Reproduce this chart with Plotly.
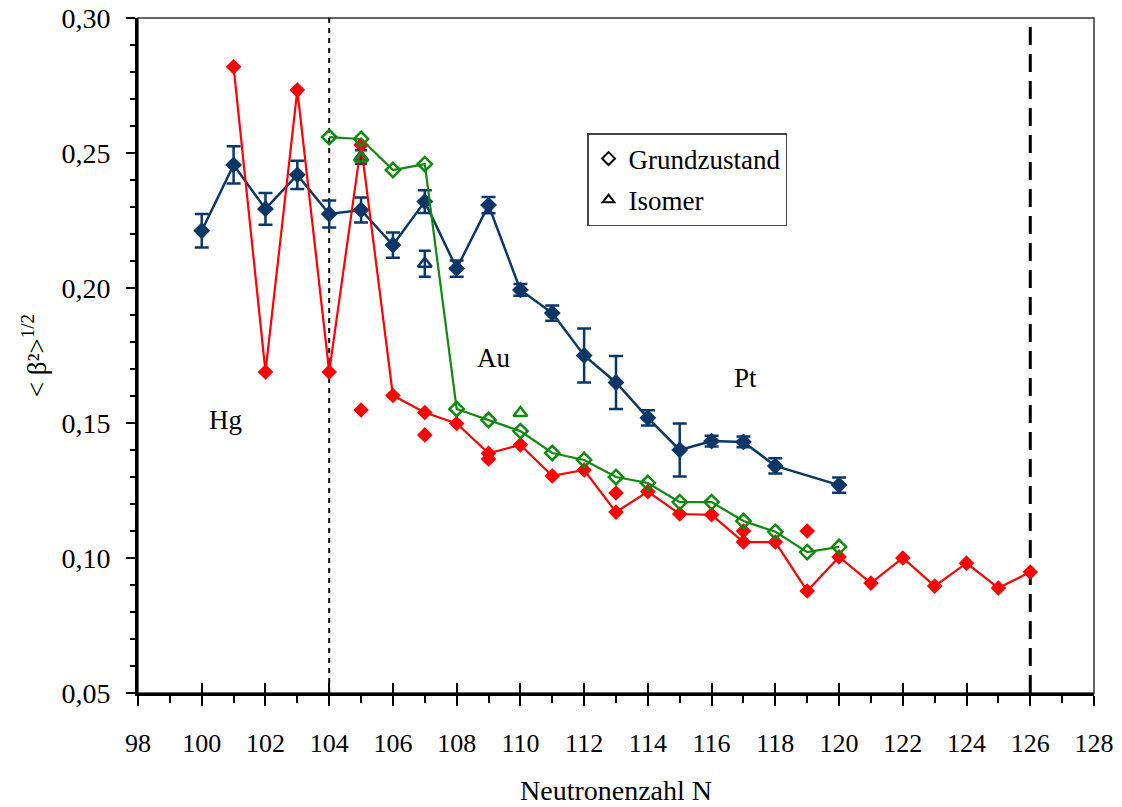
import plotly.graph_objects as go

# Neutron numbers and rms deformation <beta^2>^(1/2)
# Pt (ground states, with errors)
pt_n = [100, 101, 102, 103, 104, 105, 106, 107, 108, 109, 110, 111, 112, 113, 114, 115, 116, 117, 118, 120]
pt_beta = [0.2212, 0.2456, 0.2293, 0.2419, 0.2274, 0.2289, 0.2159, 0.2320, 0.2072, 0.2307,
           0.1993, 0.1907, 0.1750, 0.1650, 0.1519, 0.1400, 0.1433, 0.1430, 0.1341, 0.1270]
pt_err = [0.0062, 0.0069, 0.0059, 0.0052, 0.0050, 0.0046, 0.0047, 0.0042, 0.0030, 0.0030,
          0.0022, 0.0028, 0.0100, 0.0098, 0.0028, 0.0098, 0.0020, 0.0020, 0.0028, 0.0028]

# Pt isomers
pt_iso_n = [105, 107]
pt_iso_beta = [0.2485, 0.2090]
pt_iso_err = [0.0025, 0.0048]

# Hg ground states (connected)
hg_n = [101, 102, 103, 104, 105, 106, 107, 108, 109, 110, 111, 112, 113,
        114, 115, 116, 117, 118, 119, 120, 121, 122, 123, 124, 125, 126]
hg_beta = [0.2819, 0.1689, 0.2733, 0.1689, 0.2530, 0.1602, 0.1539, 0.1498, 0.1388, 0.1419,
           0.1304, 0.1326, 0.1170, 0.1246, 0.1163, 0.1160, 0.1059, 0.1059, 0.0878, 0.1004,
           0.0907, 0.1000, 0.0896, 0.0981, 0.0889, 0.0948]

# Hg isomers (single points)
hg_iso_n = [105, 107, 109, 113, 117, 119]
hg_iso_beta = [0.1548, 0.1456, 0.1367, 0.1241, 0.1100, 0.1100]

# Au ground states
au_n = [104, 105, 106, 107, 108, 109, 110, 111, 112, 113, 114, 115, 116, 117, 118, 119, 120]
au_beta = [0.2559, 0.2552, 0.2437, 0.2459, 0.1552, 0.1511, 0.1470, 0.1389, 0.1363, 0.1300,
           0.1278, 0.1207, 0.1207, 0.1137, 0.1097, 0.1022, 0.1041]

# Au isomers
au_iso_n = [105, 110]
au_iso_beta = [0.2481, 0.1537]

# Reference lines: midshell and N=126 shell closure
n_mid = 104
n_shell = 126

PT_COLOR = "#0b3768"
HG_COLOR = "#ff0000"
AU_COLOR = "#0f8a0f"
FONT = "Liberation Serif"

fig = go.Figure()

# Pt
fig.add_trace(go.Scatter(
    x=pt_n, y=pt_beta, mode="lines+markers", showlegend=False,
    line=dict(color=PT_COLOR, width=2.5),
    marker=dict(symbol="diamond", size=13, color=PT_COLOR),
    error_y=dict(type="data", array=pt_err, color=PT_COLOR, thickness=2.5, width=7),
))
fig.add_trace(go.Scatter(
    x=pt_iso_n, y=pt_iso_beta, mode="markers", showlegend=False,
    marker=dict(symbol="triangle-up-open", size=12, color=PT_COLOR, line=dict(width=2.5)),
    error_y=dict(type="data", array=pt_iso_err, color=PT_COLOR, thickness=2.5, width=6),
))

# Hg
fig.add_trace(go.Scatter(
    x=hg_n, y=hg_beta, mode="lines+markers", showlegend=False,
    line=dict(color=HG_COLOR, width=2.2),
    marker=dict(symbol="diamond", size=12, color=HG_COLOR),
))
fig.add_trace(go.Scatter(
    x=hg_iso_n, y=hg_iso_beta, mode="markers", showlegend=False,
    marker=dict(symbol="diamond", size=12, color=HG_COLOR),
))

# Au
fig.add_trace(go.Scatter(
    x=au_n, y=au_beta, mode="lines+markers", showlegend=False,
    line=dict(color=AU_COLOR, width=2.2),
    marker=dict(symbol="diamond-open", size=11, color=AU_COLOR, line=dict(width=2.5)),
))
fig.add_trace(go.Scatter(
    x=au_iso_n, y=au_iso_beta, mode="markers", showlegend=False,
    marker=dict(symbol="triangle-up-open", size=12, color=AU_COLOR, line=dict(width=2.5)),
))

# Legend entries
fig.add_trace(go.Scatter(
    x=[None], y=[None], mode="markers", name="Grundzustand", legendgroup="g",
    marker=dict(symbol="diamond-open", size=10, color="black", line=dict(width=2)),
))
fig.add_trace(go.Scatter(
    x=[None], y=[None], mode="markers", name="Isomer", legendgroup="i",
    marker=dict(symbol="triangle-up-open", size=10, color="black", line=dict(width=2)),
))

# Vertical reference lines
fig.add_shape(type="line", xref="x", yref="y", x0=n_mid, x1=n_mid, y0=0.05, y1=0.30,
              line=dict(color="black", width=2, dash="5px,5px"), layer="below")
fig.add_shape(type="line", xref="x", yref="y", x0=n_shell, x1=n_shell, y0=0.05, y1=0.30,
              line=dict(color="black", width=3, dash="18px,9px"), layer="below")

# Frame (top and right edges)
fig.add_shape(type="rect", xref="paper", yref="paper", x0=0, x1=1, y0=0, y1=1,
              line=dict(color="#333333", width=1.5), layer="below")

# Element labels
for txt, xv, yv in [("Hg", 100.75, 0.151), ("Au", 109.15, 0.174), ("Pt", 117.05, 0.1665)]:
    fig.add_annotation(x=xv, y=yv, xref="x", yref="y", text=txt, showarrow=False,
                       font=dict(family=FONT, size=27, color="black"))

# Axis titles
fig.add_annotation(x=-0.109, y=0.5, xref="paper", yref="paper", textangle=-90,
                   xanchor="center", yanchor="middle",
                   text="< β²><sup>1/2</sup>", showarrow=False,
                   font=dict(family=FONT, size=27, color="black"))
fig.add_annotation(x=0.5, y=-0.145, xref="paper", yref="paper",
                   xanchor="center", yanchor="middle",
                   text="Neutronenzahl N", showarrow=False,
                   font=dict(family=FONT, size=28, color="black"))

fig.update_layout(
    width=1122, height=807,
    margin=dict(l=138, r=28, t=18, b=114, autoexpand=False),
    paper_bgcolor="white", plot_bgcolor="white",
    separators=",.",
    font=dict(family=FONT, color="black"),
    showlegend=True,
    legend=dict(
        x=0.4697, y=0.8296, xanchor="left", yanchor="top",
        bgcolor="white", bordercolor="#444444", borderwidth=1.5,
        font=dict(family=FONT, size=27, color="black"),
        traceorder="grouped", tracegroupgap=3,
    ),
    xaxis=dict(
        range=[98, 128], tick0=98, dtick=2, showgrid=False, zeroline=False,
        showline=True, linecolor="black", linewidth=3, automargin=False,
        ticks="outside", ticklen=10, tickwidth=2, tickcolor="black",
        minor=dict(dtick=1, ticks="outside", ticklen=7, tickwidth=2, tickcolor="black"),
        tickfont=dict(family=FONT, size=26, color="black"),
        ticklabelstandoff=15,
    ),
    xaxis2=dict(
        range=[98, 128], tick0=98, dtick=2, overlaying="x", side="bottom",
        showgrid=False, zeroline=False, showline=False, showticklabels=False,
        automargin=False,
        ticks="inside", ticklen=10, tickwidth=2, tickcolor="black",
    ),
    yaxis=dict(
        range=[0.05, 0.30], tick0=0.05, dtick=0.05, tickformat=".2f",
        showgrid=False, zeroline=False, automargin=False,
        showline=True, linecolor="black", linewidth=3,
        ticks="outside", ticklen=9, tickwidth=2, tickcolor="black",
        minor=dict(dtick=0.01, ticks="outside", ticklen=5, tickwidth=2, tickcolor="black"),
        tickfont=dict(family=FONT, size=28, color="black"),
        ticklabelstandoff=10,
    ),
)

# Dummy trace to show the inward half of the major x ticks
fig.add_trace(go.Scatter(x=[None], y=[None], xaxis="x2", showlegend=False))

fig.write_html("out.html")
